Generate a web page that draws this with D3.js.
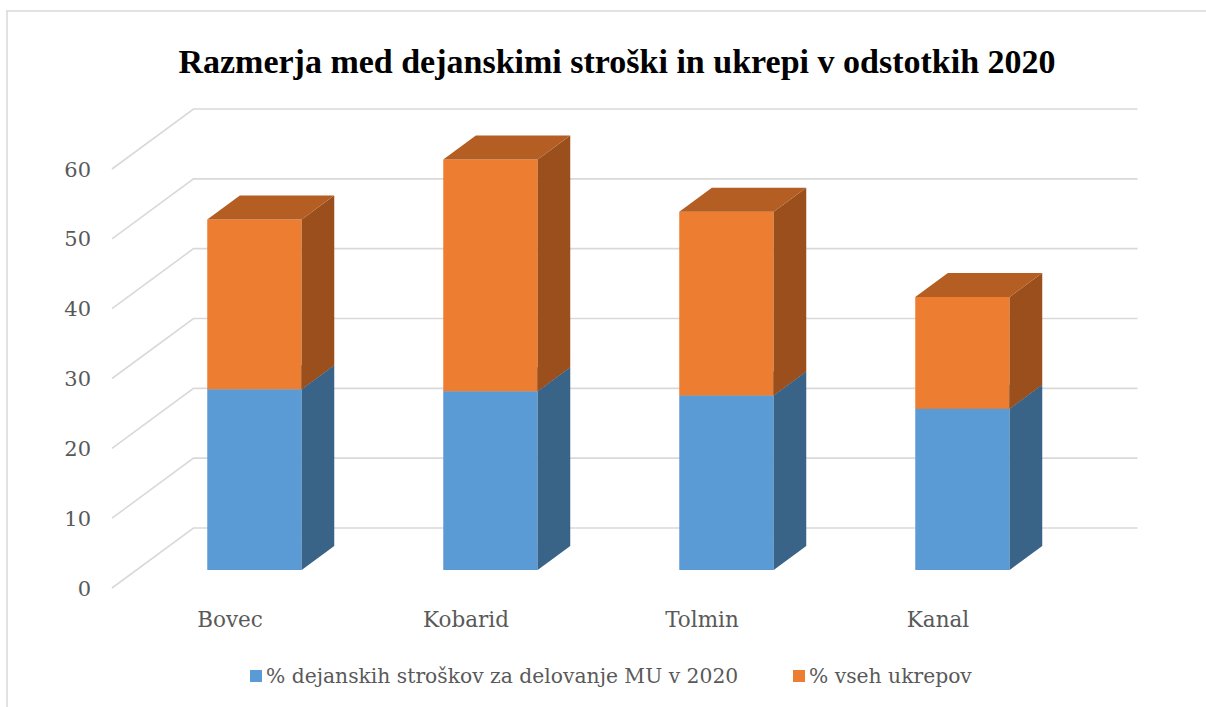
<!DOCTYPE html>
<html>
<head>
<meta charset="utf-8">
<script src="https://cdn.jsdelivr.net/npm/d3@7"></script>
<style>
  html, body { margin: 0; padding: 0; background: #fff; }
  svg { display: block; }
</style>
</head>
<body>
<svg id="chart" width="1206" height="707"></svg>
<script>
// ---- data ----
const categories = ["Bovec", "Kobarid", "Tolmin", "Kanal"];
const seriesNames = ["% dejanskih stroškov za delovanje MU v 2020", "% vseh ukrepov"];
const costShare = [25.9, 25.6, 25.0, 23.1];     // blue
const measureShare = [24.3, 33.2, 26.3, 16.0];  // orange
const yTicks = [0, 10, 20, 30, 40, 50, 60];
const titleText = "Razmerja med dejanskimi stroški in ukrepi v odstotkih 2020";

// ---- styling ----
const colors = [
  { front: "#5B9BD5", side: "#3A6487", top: "#4A7DAE" },
  { front: "#ED7D31", side: "#9A4F1D", top: "#B45E23" }
];
const textColor = "#595959";
const gridColor = "#D9D9D9";
const serif = "'DejaVu Serif', 'Liberation Serif', serif";

const svg = d3.select("#chart");

// chart border
svg.append("rect")
  .attr("x", 7).attr("y", 11).attr("width", 1220).attr("height", 720)
  .attr("fill", "none").attr("stroke", "#D9D9D9").attr("stroke-width", 1.5);

// ---- scales (front plane) + oblique depth ----
const x = d3.scaleBand().domain(categories).range([112, 1056])
  .paddingInner(0.6).paddingOuter(0.3);
const y = d3.scaleLinear().domain([0, 60]).range([588, 169]);
const DX = 81.5, DY = 60;             // full depth offset
const D0 = 0.3, D1 = 0.7;             // bar depth span
const P = (xf, v, d) => [xf + d * DX, y(v) - d * DY];

// title (fit to the reference width without distorting glyphs)
const title = svg.append("text")
  .attr("x", 617).attr("y", 73)
  .attr("text-anchor", "middle")
  .attr("font-family", "'Liberation Serif', 'DejaVu Serif', serif").attr("font-weight", "bold")
  .attr("font-size", 32).attr("fill", "#000")
  .text(titleText);
const tw = title.node().getComputedTextLength();
if (tw > 0) title.attr("font-size", Math.min(34, 32 * 884 / tw));

// gridlines: back wall + left side wall
const grid = svg.append("g").attr("stroke", gridColor).attr("stroke-width", 1.6).attr("fill", "none");
const [x0, x1] = x.range();
yTicks.forEach(t => {
  const a = P(x0, t, 0), b = P(x0, t, 1), c = P(x1, t, 1);
  grid.append("polyline").attr("points", [a, b, c].map(p => p.join(",")).join(" "));
});

// y tick labels
svg.append("g").selectAll("text").data(yTicks).join("text")
  .attr("x", 91).attr("y", d => y(d)).attr("dy", "0.36em")
  .attr("text-anchor", "end")
  .attr("font-family", serif).attr("font-size", 21).attr("fill", textColor)
  .text(d => d);

// category labels
svg.append("g").selectAll("text").data(categories).join("text")
  .attr("x", d => x(d) + x.bandwidth() / 2).attr("y", 627)
  .attr("text-anchor", "middle")
  .attr("font-family", serif).attr("font-size", 21.5).attr("fill", textColor)
  .text(d => d);

// stacked 3D bars
const stackData = categories.map((c, i) => ({ cat: c, s0: costShare[i], s1: measureShare[i] }));
const stack = d3.stack().keys(["s0", "s1"])(stackData);
const poly = pts => pts.map(p => p.join(",")).join(" ");
const bars = svg.append("g");
categories.forEach((c, i) => {
  const xl = x(c), xr = x(c) + x.bandwidth();
  stack.forEach((layer, k) => {
    const [v0, v1] = layer[i];
    const col = colors[k];
    const g = bars.append("g");
    // front
    g.append("polygon").attr("fill", col.front)
      .attr("points", poly([P(xl, v0, D0), P(xr, v0, D0), P(xr, v1, D0), P(xl, v1, D0)]));
    // right side
    g.append("polygon").attr("fill", col.side)
      .attr("points", poly([P(xr, v0, D0), P(xr, v0, D1), P(xr, v1, D1), P(xr, v1, D0)]));
    // top
    g.append("polygon").attr("fill", col.top)
      .attr("points", poly([P(xl, v1, D0), P(xr, v1, D0), P(xr, v1, D1), P(xl, v1, D1)]));
  });
});

// legend
const legend = svg.append("g").attr("font-family", serif).attr("font-size", 20.3).attr("fill", textColor);
const legendX = [250, 793];
seriesNames.forEach((name, k) => {
  legend.append("rect").attr("x", legendX[k]).attr("y", 670).attr("width", 12).attr("height", 12)
    .attr("fill", colors[k].front);
  legend.append("text").attr("x", legendX[k] + 16).attr("y", 676).attr("dy", "0.36em")
    .text(name);
});
</script>
</body>
</html>
